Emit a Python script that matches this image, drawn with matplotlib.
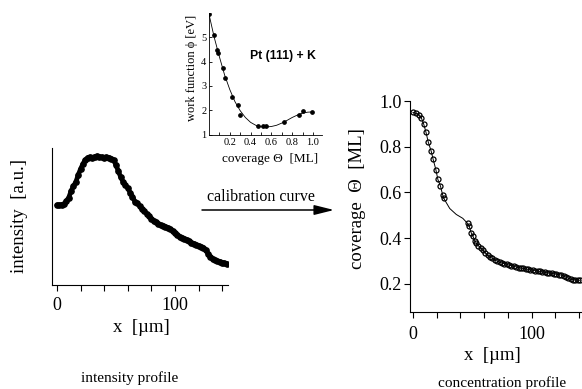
import matplotlib
matplotlib.use("Agg")
import matplotlib.pyplot as plt

SERIF = ["Liberation Serif", "DejaVu Serif"]
plt.rcParams["font.family"] = SERIF
plt.rcParams["mathtext.fontset"] = "stix"

# ---------------- data ----------------
# intensity profile (left panel), x in micrometres, intensity in arbitrary units
int_x = [0, 2, 4, 6, 8, 10, 12, 14, 16, 18, 20, 22, 24, 26, 28, 30, 32, 34, 36, 38,
         40, 42, 44, 46, 48, 50, 52, 54, 56, 58, 60, 62, 64, 66, 68, 70, 72, 74, 76, 78,
         80, 82, 84, 86, 88, 90, 92, 94, 96, 98, 100, 102, 104, 106, 108, 110, 112, 114,
         116, 118, 120, 122, 124, 126, 128, 130, 132, 134, 136, 138, 140, 142, 144]
int_y = [80, 80, 80.5, 81, 84, 87.5, 94, 99, 103, 110, 116, 121, 125, 127.5, 128, 127.5,
         128.5, 129, 128.5, 128, 127.5, 128, 127.5, 126.5, 125, 120, 114, 108, 103.5, 100,
         97, 92.5, 88.5, 83.5, 82, 79, 76, 74, 71.5, 69, 66.5, 64.5, 63, 61.5, 60, 59.5,
         58.5, 57.5, 56, 54.5, 52.5, 50, 48.5, 47.5, 46.5, 45.5, 44, 42.5, 41.5, 40.5,
         39.5, 38.5, 37.5, 35.5, 31.5, 28.5, 26.5, 25, 24, 23.5, 22.5, 22, 21.5]

# calibration inset: work function vs coverage (measured points)
wf_cov = [0.0, 0.05, 0.08, 0.09, 0.13, 0.15, 0.22, 0.28, 0.30, 0.47, 0.52, 0.55,
          0.72, 0.87, 0.90, 0.99]
wf_phi = [5.95, 5.08, 4.47, 4.36, 3.74, 3.33, 2.56, 2.20, 1.79, 1.33, 1.33, 1.33,
          1.53, 1.82, 1.96, 1.91]
# calibration inset: fitted curve
fit_cov = [0.0, 0.05, 0.10, 0.15, 0.20, 0.25, 0.30, 0.35, 0.40, 0.45, 0.50, 0.55,
           0.60, 0.65, 0.70, 0.75, 0.80, 0.85, 0.90, 0.95, 1.00]
fit_phi = [5.95, 5.00, 4.20, 3.45, 2.85, 2.35, 1.98, 1.70, 1.50, 1.38, 1.32, 1.31,
           1.33, 1.38, 1.47, 1.58, 1.70, 1.80, 1.88, 1.92, 1.93]

# concentration profile (right panel): first segment and second segment of markers
cov_x1 = [0, 2.5, 5, 7, 9, 11, 12.9, 15.4, 17, 19.3, 21, 23.2, 25, 26]
cov_y1 = [0.950, 0.946, 0.940, 0.927, 0.900, 0.863, 0.820, 0.780, 0.745, 0.700, 0.657,
          0.628, 0.590, 0.574]
cov_x2 = [46, 47.5, 49, 50.5, 52, 53.5, 55, 57, 59, 61, 63, 65, 67, 69, 71, 73, 75, 77,
          79, 81, 83, 85, 87, 89, 91, 93, 95, 97, 99, 101, 103, 105, 107, 109, 111, 113,
          115, 117, 119, 121, 123, 125, 127, 129, 131, 133, 135, 137, 139, 141]
cov_y2 = [0.465, 0.452, 0.425, 0.410, 0.390, 0.378, 0.368, 0.358, 0.348, 0.335, 0.325,
          0.318, 0.312, 0.305, 0.300, 0.296, 0.292, 0.289, 0.286, 0.283, 0.280, 0.277,
          0.275, 0.272, 0.270, 0.268, 0.266, 0.264, 0.262, 0.260, 0.258, 0.256, 0.255,
          0.253, 0.251, 0.249, 0.248, 0.246, 0.245, 0.243, 0.241, 0.239, 0.236, 0.230,
          0.225, 0.221, 0.219, 0.218, 0.217, 0.216]
# line through the gap (no markers)
gap_x = [31, 36.5, 42]
gap_y = [0.530, 0.504, 0.487]

W, H = 582, 389
fig = plt.figure(figsize=(W / 100, H / 100), dpi=100)


def px_axes(x0, y0, x1, y1):
    """axes rectangle from pixel coords (top-left origin)."""
    return fig.add_axes([x0 / W, (H - y1) / H, (x1 - x0) / W, (y1 - y0) / H])


# ---------------- left panel ----------------
axL = px_axes(52, 148, 228, 285)
axL.plot(int_x, int_y, color="black", lw=3.4, solid_capstyle="round", zorder=2)
axL.plot(int_x, int_y, "o", ms=3.8, mfc="black", mec="black", mew=1.0, zorder=3)
axL.set_xlim(-4.2, 145)
axL.set_ylim(0, 137)
axL.set_xticks([0, 20, 40, 60, 80, 100, 120, 140])
axL.set_xticklabels(["0", "", "", "", "", "100", "", ""])
axL.set_yticks([])
for s in ("top", "right"):
    axL.spines[s].set_visible(False)
for s in ("left", "bottom"):
    axL.spines[s].set_linewidth(0.8)
axL.tick_params(axis="x", direction="out", length=4, width=0.8, labelsize=13, pad=5)

# ---------------- inset ----------------
axI = px_axes(209, 13, 322, 135)
axI.plot(fit_cov, fit_phi, color="black", lw=0.6)
axI.plot(wf_cov, wf_phi, "o", ms=2.4, color="black")
axI.set_xlim(0, 1.087)
axI.set_ylim(0.98, 6.0)
axI.set_xticks([0.1 * i for i in range(1, 11)])
axI.set_xticklabels(["", "0.2", "", "0.4", "", "0.6", "", "0.8", "", "1.0"])
axI.set_yticks([1, 2, 3, 4, 5])
for s in ("top", "right"):
    axI.spines[s].set_visible(False)
for s in ("left", "bottom"):
    axI.spines[s].set_linewidth(0.6)
axI.tick_params(direction="in", length=2.5, width=0.6, labelsize=7.5, pad=2)
axI.text(0.71, 4.25, "Pt (111) + K", family=["Liberation Sans", "DejaVu Sans"],
         weight="bold", fontsize=8.8, ha="center", va="center")

# ---------------- right panel ----------------
axR = px_axes(410, 101, 582, 312)
line_x = cov_x1 + gap_x + cov_x2
line_y = cov_y1 + gap_y + cov_y2
axR.plot(line_x, line_y, color="black", lw=0.7)
axR.plot(cov_x1 + cov_x2, cov_y1 + cov_y2, "o", ms=3.6, mfc="none", mec="black", mew=0.9)
axR.set_xlim(-2.5, 142.5)
axR.set_ylim(0.0775, 1.0)
axR.set_xticks([0, 20, 40, 60, 80, 100, 120, 140])
axR.set_xticklabels(["0", "", "", "", "", "100", "", ""])
axR.set_yticks([0.2, 0.4, 0.6, 0.8, 1.0])
axR.set_yticklabels(["0.2", "0.4", "0.6", "0.8", "1.0"])
for s in ("top", "right"):
    axR.spines[s].set_visible(False)
for s in ("left", "bottom"):
    axR.spines[s].set_linewidth(0.8)
axR.tick_params(direction="out", length=4, width=0.8, labelsize=13)
axR.tick_params(axis="y", pad=2)
axR.tick_params(axis="x", pad=6)

# ---------------- overlay: labels & arrow ----------------
ov = fig.add_axes([0, 0, 1, 1], facecolor="none")
ov.set_xlim(0, W)
ov.set_ylim(H, 0)
ov.axis("off")

ov.text(20, 216, "intensity  [a.u.]", rotation=90, fontsize=13.5, ha="center", va="center")
ov.text(141, 327, "x  [µm]", fontsize=13.5, ha="center", va="center")
ov.text(130, 378, "intensity profile", fontsize=11, ha="center", va="center")

ov.text(192, 68, "work function ϕ [eV]", rotation=90, fontsize=9, ha="center", va="center")
ov.text(270, 159, "coverage Θ  [ML]", fontsize=9.5, ha="center", va="center")

ov.text(261, 197, "calibration curve", fontsize=11.5, ha="center", va="center")
ov.annotate("", xy=(334, 210), xytext=(202, 210),
            arrowprops=dict(arrowstyle="-|>,head_length=1.2,head_width=0.3",
                            color="black", lw=1.1, mutation_scale=10,
                            shrinkA=0, shrinkB=0))

ov.text(357, 199, "coverage  Θ  [ML]", rotation=90, fontsize=13.5, ha="center", va="center")
ov.text(492, 355, "x  [µm]", fontsize=13.5, ha="center", va="center")
ov.text(502, 383, "concentration profile", fontsize=11, ha="center", va="center")

fig.savefig("out.png", dpi=100)
